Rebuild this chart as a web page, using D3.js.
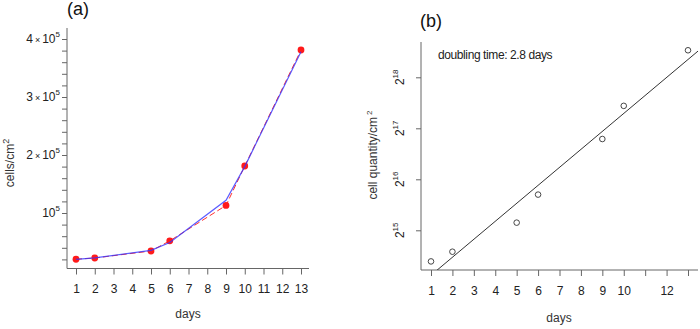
<!DOCTYPE html>
<html>
<head>
<meta charset="utf-8">
<script src="https://cdn.jsdelivr.net/npm/d3@7"></script>
<style>
  body { margin: 0; background: #fff; }
  svg { font-family: "Liberation Sans", Arial, sans-serif; }
  .tick line { stroke: #666; }
  .tick text { fill: #222; }
</style>
</head>
<body>
<div id="vis"></div>
<script>
var width = 700,
    height = 329;

// data
var days = [1, 2, 5, 6, 9, 10, 13];
var cells = [20300, 22400, 34500, 52000, 113000, 181000, 381000];
var smooth = [20000, 22600, 35500, 49000, 122000, 180000, 378000];
var log2Cells = [14.39, 14.58, 15.15, 15.70, 16.79, 17.44, 18.53];

var xTicksA = [1, 2, 3, 4, 5, 6, 7, 8, 9, 10, 11, 12, 13];
var yTicksA = d3.range(20000, 400001, 20000);
var yLabelsA = [100000, 200000, 300000, 400000];
var xTicksB = [1, 2, 3, 4, 5, 6, 7, 8, 9, 10, 11, 12, 13];
var xLabelsB = [1, 2, 3, 4, 5, 6, 7, 8, 9, 10, 12];
var yTicksB = [15, 16, 17, 18];

var svg = d3.select("#vis").append("svg")
    .attr("width", width)
    .attr("height", height);

//--------PANEL A--------//
var xa = d3.scaleLinear().domain([1, 13]).range([76, 301]);
var ya = d3.scaleLinear().domain([0, 400000]).range([271, 39]);

var ga = svg.append("g");

// L shaped box
ga.append("path")
    .attr("d", "M67,28V268.5H309")
    .attr("fill", "none")
    .attr("stroke", "#666");

ga.append("g")
    .attr("transform", "translate(0,268.5)")
    .call(d3.axisBottom(xa).tickValues(xTicksA).tickSize(6).tickPadding(10))
    .call(function(g) { g.select(".domain").remove(); })
    .selectAll("text").attr("font-size", 12);

ga.append("g")
    .attr("transform", "translate(67,0)")
    .call(d3.axisLeft(ya).tickValues(yTicksA).tickSize(5).tickFormat(""))
    .call(function(g) { g.select(".domain").remove(); });

// scientific labels
yLabelsA.forEach(function(v) {
  var t = ga.append("text")
      .attr("x", 60)
      .attr("y", ya(v) + 4)
      .attr("text-anchor", "end")
      .attr("font-size", 12)
      .attr("fill", "#222");
  var m = v / 100000;
  if (m > 1) {
    t.append("tspan").text(m);
    t.append("tspan").attr("font-size", 9).attr("dx", 2).text("\u00d7");
    t.append("tspan").attr("dx", 2).text("10");
  } else {
    t.append("tspan").text("10");
  }
  t.append("tspan").attr("font-size", 8).attr("dy", -6).text("5");
});

var lineA = d3.line().x(function(d) { return xa(d[0]); }).y(function(d) { return ya(d[1]); });

ga.append("path")
    .datum(d3.zip(days, cells))
    .attr("d", lineA)
    .attr("fill", "none")
    .attr("stroke", "#ff3030")
    .attr("stroke-width", 1)
    .attr("stroke-dasharray", "6,3");

ga.selectAll(".pt")
    .data(d3.zip(days, cells))
    .enter().append("circle")
    .attr("class", "pt")
    .attr("cx", function(d) { return xa(d[0]); })
    .attr("cy", function(d) { return ya(d[1]); })
    .attr("r", 3.4)
    .attr("fill", "#ff1a1a");

ga.append("path")
    .datum(d3.zip(days, smooth))
    .attr("d", lineA)
    .attr("fill", "none")
    .attr("stroke", "#3333ff")
    .attr("stroke-opacity", 0.8)
    .attr("stroke-width", 1.2);

ga.append("text")
    .attr("x", 67).attr("y", 15)
    .attr("font-size", 18).attr("fill", "#111")
    .text("(a)");

ga.append("text")
    .attr("x", 188).attr("y", 318)
    .attr("text-anchor", "middle")
    .attr("font-size", 12).attr("fill", "#333")
    .text("days");

var la = ga.append("text")
    .attr("transform", "translate(14,163) rotate(-90)")
    .attr("text-anchor", "middle")
    .attr("font-size", 12).attr("fill", "#333");
la.append("tspan").text("cells/cm");
la.append("tspan").attr("font-size", 9).attr("dy", -5).text("2");

//--------PANEL B--------//
var xb = d3.scaleLinear().domain([1, 13]).range([431, 688]);
var yb = d3.scaleLinear().domain([15, 18]).range([230.3, 77.3]);

var gb = svg.append("g");

gb.append("path")
    .attr("d", "M421,42V270H698")
    .attr("fill", "none")
    .attr("stroke", "#666");

gb.append("g")
    .attr("transform", "translate(0,270)")
    .call(d3.axisBottom(xb).tickValues(xTicksB).tickSize(6).tickPadding(10)
      .tickFormat(function(d) { return xLabelsB.indexOf(d) >= 0 ? d : ""; }))
    .call(function(g) { g.select(".domain").remove(); })
    .selectAll("text").attr("font-size", 12).attr("fill", "#111");

gb.append("g")
    .attr("transform", "translate(421,0)")
    .call(d3.axisLeft(yb).tickValues(yTicksB).tickSize(5).tickFormat(""))
    .call(function(g) { g.select(".domain").remove(); });

yTicksB.forEach(function(v) {
  var t = gb.append("text")
      .attr("transform", "translate(404," + yb(v) + ") rotate(-90)")
      .attr("text-anchor", "middle")
      .attr("font-size", 12)
      .attr("fill", "#222");
  t.append("tspan").text("2");
  t.append("tspan").attr("font-size", 8).attr("dy", -6).text(v);
});

// least squares fit of log2 values
var mx = d3.mean(days), my = d3.mean(log2Cells);
var sxy = d3.sum(days, function(d, i) { return (d - mx) * (log2Cells[i] - my); });
var sxx = d3.sum(days, function(d) { return (d - mx) * (d - mx); });
var slope = sxy / sxx, icpt = my - slope * mx;

gb.append("clipPath").attr("id", "clipb")
  .append("rect").attr("x", 421).attr("y", 42).attr("width", 277).attr("height", 228);

gb.append("line")
    .attr("clip-path", "url(#clipb)")
    .attr("x1", xb(0)).attr("y1", yb(icpt))
    .attr("x2", xb(14)).attr("y2", yb(icpt + slope * 14))
    .attr("stroke", "#333")
    .attr("stroke-width", 1);

gb.selectAll(".op")
    .data(d3.zip(days, log2Cells))
    .enter().append("circle")
    .attr("class", "op")
    .attr("cx", function(d) { return xb(d[0]); })
    .attr("cy", function(d) { return yb(d[1]); })
    .attr("r", 2.8)
    .attr("fill", "#fff")
    .attr("stroke", "#333")
    .attr("stroke-width", 0.9);

gb.append("text")
    .attr("x", 438).attr("y", 59)
    .attr("font-size", 12).attr("fill", "#222")
    .attr("letter-spacing", -0.4)
    .text("doubling time: 2.8 days");

gb.append("text")
    .attr("x", 420).attr("y", 27)
    .attr("font-size", 18).attr("fill", "#111")
    .text("(b)");

gb.append("text")
    .attr("x", 559).attr("y", 322)
    .attr("text-anchor", "middle")
    .attr("font-size", 12).attr("fill", "#333")
    .text("days");

var lb = gb.append("text")
    .attr("transform", "translate(377,155) rotate(-90)")
    .attr("text-anchor", "middle")
    .attr("font-size", 12).attr("fill", "#333");
lb.append("tspan").text("cell quantity/cm");
lb.append("tspan").attr("font-size", 8).attr("dy", -5).attr("dx", 2).text("2");
</script>
</body>
</html>
